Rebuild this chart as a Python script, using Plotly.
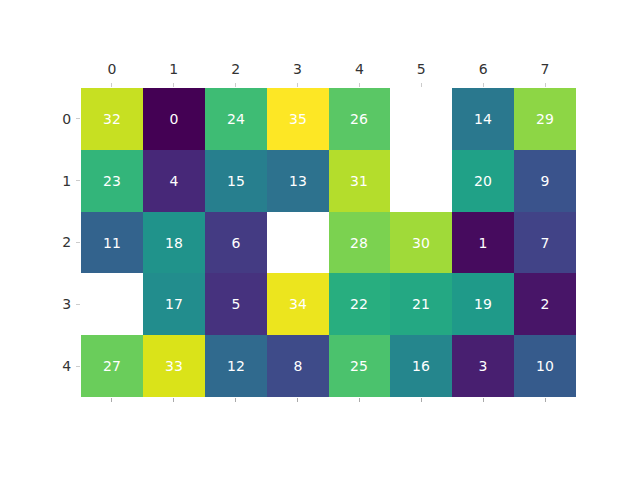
import plotly.graph_objects as go

cols = ["0", "1", "2", "3", "4", "5", "6", "7"]
rows = ["0", "1", "2", "3", "4"]
values = [
    [32, 0, 24, 35, 26, None, 14, 29],
    [23, 4, 15, 13, 31, None, 20, 9],
    [11, 18, 6, None, 28, 30, 1, 7],
    [None, 17, 5, 34, 22, 21, 19, 2],
    [27, 33, 12, 8, 25, 16, 3, 10],
]

viridis = ["#440154", "#481467", "#482576", "#453781", "#404688", "#39558c",
           "#33638d", "#2d718e", "#287d8e", "#238a8d", "#1f968b", "#20a386",
           "#29af7f", "#3dbc74", "#56c667", "#75d054", "#95d840", "#bade28",
           "#dde318", "#fde725"]
scale = [[i / (len(viridis) - 1), c] for i, c in enumerate(viridis)]

text = [["" if v is None else str(v) for v in r] for r in values]

fig = go.Figure()
fig.add_trace(go.Heatmap(
    z=values, x=list(range(len(cols))), y=list(range(len(rows))),
    colorscale=scale, zmin=0, zmax=35, showscale=False,
    text=text, texttemplate="%{text}",
    textfont=dict(color="white", size=14, family="DejaVu Sans"),
    xgap=0, ygap=0, hoverongaps=False,
))
fig.add_trace(go.Scatter(x=[0], y=[0], xaxis="x2", mode="markers",
                         marker=dict(opacity=0), showlegend=False, hoverinfo="skip"))

fig.update_layout(
    width=640, height=480,
    margin=dict(l=73, r=72, t=80, b=91),
    paper_bgcolor="white", plot_bgcolor="white",
    font=dict(family="DejaVu Sans", color="#333333", size=14),
    xaxis=dict(side="top", tickmode="array", tickvals=list(range(8)), ticktext=cols,
               range=[-0.5, 7.5], showgrid=False, zeroline=False, automargin=False,
               ticks="outside", ticklen=4, tickcolor="#cccccc", tickwidth=1,
               ticklabelstandoff=3),
    xaxis2=dict(overlaying="x", side="bottom", tickmode="array", tickvals=list(range(8)),
                ticktext=[""] * 8, range=[-0.5, 7.5], showgrid=False, zeroline=False,
                ticks="outside", ticklen=4, tickcolor="#aaaaaa", tickwidth=1,
                anchor="y", automargin=False),
    yaxis=dict(tickmode="array", tickvals=list(range(5)), ticktext=rows,
               range=[4.5, -0.5], showgrid=False, zeroline=False, automargin=False,
               ticks="outside", ticklen=4, tickcolor="#cccccc", tickwidth=1,
               ticklabelstandoff=2),
)

fig.write_html("out.html")
